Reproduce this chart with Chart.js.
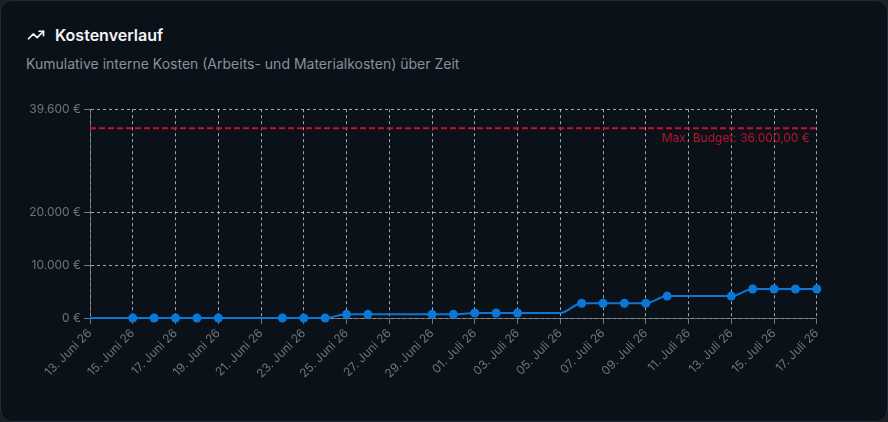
<!DOCTYPE html>
<html lang="de">
<head>
<meta charset="utf-8">
<title>Kostenverlauf</title>
<script src="https://cdn.jsdelivr.net/npm/chart.js@4.4.1/dist/chart.umd.min.js"></script>
<style>
    html, body {
        margin: 0;
        padding: 0;
        width: 888px;
        height: 422px;
        background: #1a1f26;
        font-family: Inter, "Noto Sans", sans-serif;
        overflow: hidden;
    }
    .card {
        position: absolute;
        left: 0;
        top: 0;
        width: 886px;
        height: 420px;
        background: #0b1119;
        border: 1px solid #252b34;
        border-radius: 12px;
    }
    .title {
        position: absolute;
        left: 26px;
        top: 24px;
        display: flex;
        align-items: center;
        color: #f3f4f6;
        font-size: 16px;
        font-weight: 600;
    }
    .title svg {
        margin-right: 10px;
    }
    .subtitle {
        position: absolute;
        left: 25px;
        top: 54px;
        color: #8a9099;
        font-size: 14px;
    }
    .chart-wrap {
        position: absolute;
        left: 24px;
        top: 98px;
        width: 804px;
        height: 289px;
    }
</style>
</head>
<body>
<div class="card">
    <div class="title">
        <svg width="18" height="18" viewBox="0 0 24 24" fill="none" stroke="#f3f4f6" stroke-width="2.2" stroke-linecap="round" stroke-linejoin="round">
            <polyline points="22 7 13.5 15.5 8.5 10.5 2 17"></polyline>
            <polyline points="16 7 22 7 22 13"></polyline>
        </svg>
        <span>Kostenverlauf</span>
    </div>
    <div class="subtitle">Kumulative interne Kosten (Arbeits- und Materialkosten) über Zeit</div>
    <div class="chart-wrap"><canvas id="cost-chart"></canvas></div>
</div>

<script>
// Tage im Zeitraum
const dayLabels = [
    '13. Juni 26', '14. Juni 26', '15. Juni 26', '16. Juni 26', '17. Juni 26',
    '18. Juni 26', '19. Juni 26', '20. Juni 26', '21. Juni 26', '22. Juni 26',
    '23. Juni 26', '24. Juni 26', '25. Juni 26', '26. Juni 26', '27. Juni 26',
    '28. Juni 26', '29. Juni 26', '30. Juni 26', '01. Juli 26', '02. Juli 26',
    '03. Juli 26', '04. Juli 26', '05. Juli 26', '06. Juli 26', '07. Juli 26',
    '08. Juli 26', '09. Juli 26', '10. Juli 26', '11. Juli 26', '12. Juli 26',
    '13. Juli 26', '14. Juli 26', '15. Juli 26', '16. Juli 26', '17. Juli 26'
];

// kumulierte Kosten je Tag (EUR)
const cumulativeCosts = [
    0, 0, 0, 0, 0,
    0, 0, 0, 0, 0,
    0, 0, 700, 700, 700,
    700, 700, 700, 950, 950,
    950, 950, 950, 2800, 2800,
    2800, 2800, 4150, 4150, 4150,
    4150, 5500, 5500, 5500, 5500
];

// Tage mit Buchungen (bekommen einen Punkt)
const bookingDays = [
    '15. Juni 26', '16. Juni 26', '17. Juni 26', '18. Juni 26', '19. Juni 26',
    '22. Juni 26', '23. Juni 26', '24. Juni 26', '25. Juni 26', '26. Juni 26',
    '29. Juni 26', '30. Juni 26', '01. Juli 26', '02. Juli 26', '03. Juli 26',
    '06. Juli 26', '07. Juli 26', '08. Juli 26', '09. Juli 26', '10. Juli 26',
    '13. Juli 26', '14. Juli 26', '15. Juli 26', '16. Juli 26', '17. Juli 26'
];

const maxBudget = 36000;
const budgetLabel = 'Max. Budget: 36.000,00 €';
const yAxisMax = 39600;
const yTickValues = [0, 10000, 20000, 39600];

function formatEuro(value) {
    const s = Math.round(value).toString().replace(/\B(?=(\d{3})+(?!\d))/g, '.');
    return s + ' €';
}

// Beschriftung der Budgetlinie
const budgetLabelPlugin = {
    id: 'budgetLabel',
    afterDatasetsDraw(chart) {
        const { ctx, chartArea, scales } = chart;
        const y = scales.y.getPixelForValue(maxBudget);
        ctx.save();
        ctx.font = '12px Inter, "Noto Sans", sans-serif';
        ctx.fillStyle = '#b8142d';
        ctx.textAlign = 'right';
        ctx.textBaseline = 'middle';
        ctx.fillText(budgetLabel, chartArea.right - 7, y + 10);
        ctx.restore();
    }
};

const gridColor = 'rgba(215, 218, 224, 0.75)';
const tickColor = '#6e747d';

const canvas = document.getElementById('cost-chart');
const ctx = canvas.getContext('2d');

const chart = new Chart(ctx, {
    type: 'line',
    data: {
        labels: dayLabels,
        datasets: [
            {
                label: 'Kosten',
                data: cumulativeCosts,
                borderColor: '#0a78d8',
                backgroundColor: '#0a78d8',
                borderWidth: 2,
                cubicInterpolationMode: 'monotone',
                pointRadius: dayLabels.map(d => bookingDays.includes(d) ? 4.5 : 0),
                pointHoverRadius: 5,
                pointBorderWidth: 0,
                clip: false,
                order: 1
            },
            {
                label: 'Max. Budget',
                data: dayLabels.map(() => maxBudget),
                borderColor: '#c8102e',
                borderWidth: 2,
                borderDash: [6, 3],
                pointRadius: 0,
                fill: false,
                order: 2
            }
        ]
    },
    options: {
        responsive: true,
        maintainAspectRatio: false,
        animation: false,
        layout: { padding: { top: 0, right: 0, bottom: 0, left: 0 } },
        plugins: {
            legend: { display: false },
            tooltip: { enabled: false }
        },
        scales: {
            x: {
                grid: {
                    color: gridColor,
                    tickLength: 6,
                    tickColor: 'rgba(140, 145, 152, 0.8)'
                },
                border: {
                    display: true,
                    color: 'rgba(130, 135, 142, 0.7)',
                    dash: [3, 3]
                },
                ticks: {
                    color: tickColor,
                    font: { family: 'Inter', size: 12 },
                    minRotation: 45,
                    maxRotation: 45,
                    autoSkip: false,
                    padding: 2,
                    callback: function(value, index) {
                        return index % 2 === 0 ? this.getLabelForValue(value) : null;
                    }
                },
                afterFit(scale) {
                    scale.height = 70;
                }
            },
            y: {
                min: 0,
                max: yAxisMax,
                grid: {
                    color: gridColor,
                    tickLength: 6,
                    tickColor: 'rgba(140, 145, 152, 0.8)'
                },
                border: {
                    display: true,
                    color: 'rgba(130, 135, 142, 0.7)',
                    dash: [3, 3]
                },
                ticks: {
                    color: tickColor,
                    font: { family: 'Inter', size: 12 },
                    padding: 3,
                    callback: value => formatEuro(value)
                },
                afterBuildTicks(scale) {
                    scale.ticks = yTickValues.map(v => ({ value: v }));
                },
                afterFit(scale) {
                    scale.width = 65;
                }
            }
        }
    },
    plugins: [budgetLabelPlugin]
});
</script>
</body>
</html>
